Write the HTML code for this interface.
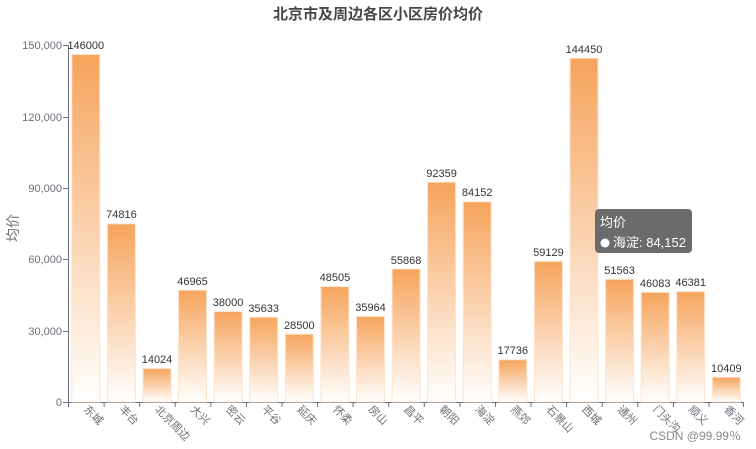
<!DOCTYPE html>
<html><head><meta charset="utf-8"><style>
body{margin:0;background:#fff;}
svg{display:block;font-family:"Liberation Sans","Noto Sans CJK SC",sans-serif;}
</style></head><body>
<svg width="756" height="449" viewBox="0 0 756 449">
<defs>
<linearGradient id="g" x1="0" y1="0" x2="0" y2="1">
<stop offset="0" stop-color="#f6a45c"/><stop offset="1" stop-color="#ffffff"/>
</linearGradient>
</defs>
<text x="378" y="19" text-anchor="middle" font-size="15" font-weight="bold" fill="#464646" font-family="'Noto Sans CJK SC',sans-serif">北京市及周边各区小区房价均价</text>
<g font-size="11" fill="#6e7079" text-anchor="end">
<text x="62" y="49">150,000</text><text x="62" y="121">120,000</text><text x="62" y="192">90,000</text><text x="62" y="263">60,000</text><text x="62" y="335">30,000</text><text x="62" y="406">0</text>
</g>
<g stroke="#6e7079" stroke-width="1">
<line x1="68.5" y1="45" x2="68.5" y2="402"/>
<line x1="63" y1="45.5" x2="68" y2="45.5"/><line x1="63" y1="117.5" x2="68" y2="117.5"/><line x1="63" y1="188.5" x2="68" y2="188.5"/><line x1="63" y1="259.5" x2="68" y2="259.5"/><line x1="63" y1="331.5" x2="68" y2="331.5"/><line x1="63" y1="402.5" x2="68" y2="402.5"/>
<line x1="68" y1="402.5" x2="744" y2="402.5"/>
<path d="M68.5 402v5M104.1 402v5M139.7 402v5M175.2 402v5M210.8 402v5M246.4 402v5M282 402v5M317.6 402v5M353.1 402v5M388.7 402v5M424.3 402v5M459.9 402v5M495.5 402v5M531 402v5M566.6 402v5M602.2 402v5M637.8 402v5M673.4 402v5M708.9 402v5M743.5 402v5"/>
</g>
<text transform="translate(18,228) rotate(-90)" text-anchor="middle" font-size="14" fill="#6e7079" font-family="'Noto Sans CJK SC',sans-serif">均价</text>
<g fill="url(#g)" stroke="#fde4cf" stroke-width="1">
<rect x="71.8" y="54.5" width="28" height="347.5"/>
<rect x="107.4" y="223.9" width="28" height="178.1"/>
<rect x="143" y="368.6" width="28" height="33.4"/>
<rect x="178.5" y="290.2" width="28" height="111.8"/>
<rect x="214.1" y="311.6" width="28" height="90.4"/>
<rect x="249.7" y="317.2" width="28" height="84.8"/>
<rect x="285.3" y="334.2" width="28" height="67.8"/>
<rect x="320.9" y="286.6" width="28" height="115.4"/>
<rect x="356.5" y="316.4" width="28" height="85.6"/>
<rect x="392.1" y="269" width="28" height="133"/>
<rect x="427.6" y="182.2" width="28" height="219.8"/>
<rect x="463.2" y="201.7" width="28" height="200.3"/>
<rect x="498.8" y="359.8" width="28" height="42.2"/>
<rect x="534.4" y="261.3" width="28" height="140.7"/>
<rect x="570" y="58.2" width="28" height="343.8"/>
<rect x="605.6" y="279.3" width="28" height="122.7"/>
<rect x="641.2" y="292.3" width="28" height="109.7"/>
<rect x="676.7" y="291.6" width="28" height="110.4"/>
<rect x="712.3" y="377.2" width="28" height="24.8"/>
</g>
<g font-size="11" fill="#333" text-anchor="middle">
<text x="85.8" y="49">146000</text><text x="121.4" y="218">74816</text><text x="157" y="363">14024</text><text x="192.5" y="285">46965</text><text x="228.1" y="306">38000</text><text x="263.7" y="312">35633</text><text x="299.3" y="329">28500</text><text x="334.9" y="281">48505</text><text x="370.5" y="311">35964</text><text x="406.1" y="264">55868</text><text x="441.6" y="177">92359</text><text x="477.2" y="196">84152</text><text x="512.8" y="354">17736</text><text x="548.4" y="256">59129</text><text x="584" y="53">144450</text><text x="619.6" y="274">51563</text><text x="655.2" y="287">46083</text><text x="690.7" y="286">46381</text><text x="726.3" y="372">10409</text>
</g>
<g font-size="11" fill="#6e7079" font-family="'Noto Sans CJK SC',sans-serif">
<text transform="translate(83,410) rotate(45)">东城</text><text transform="translate(118.6,410) rotate(45)">丰台</text><text transform="translate(154.2,410) rotate(45)">北京周边</text><text transform="translate(189.7,410) rotate(45)">大兴</text><text transform="translate(225.3,410) rotate(45)">密云</text><text transform="translate(260.9,410) rotate(45)">平谷</text><text transform="translate(296.5,410) rotate(45)">延庆</text><text transform="translate(332.1,410) rotate(45)">怀柔</text><text transform="translate(367.7,410) rotate(45)">房山</text><text transform="translate(403.3,410) rotate(45)">昌平</text><text transform="translate(438.8,410) rotate(45)">朝阳</text><text transform="translate(474.4,410) rotate(45)">海淀</text><text transform="translate(510,410) rotate(45)">燕郊</text><text transform="translate(545.6,410) rotate(45)">石景山</text><text transform="translate(581.2,410) rotate(45)">西城</text><text transform="translate(616.8,410) rotate(45)">通州</text><text transform="translate(652.4,410) rotate(45)">门头沟</text><text transform="translate(687.9,410) rotate(45)">顺义</text><text transform="translate(723.5,410) rotate(45)">香河</text>
</g>
<text x="741" y="440" text-anchor="end" font-size="12" fill="#888">CSDN @99.99％</text>
<rect x="595" y="209" width="97" height="44" rx="4" fill="#6b6b6b"/>
<text x="600" y="227" font-size="13" fill="#fff" font-family="'Noto Sans CJK SC',sans-serif">均价</text>
<circle cx="605" cy="243" r="4.5" fill="#fff"/>
<text x="613" y="247" font-size="13" fill="#fff" font-family="'Liberation Sans','Noto Sans CJK SC',sans-serif">海淀: 84,152</text>
</svg>
</body></html>
